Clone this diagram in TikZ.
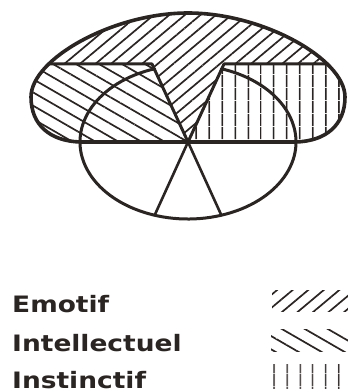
\documentclass[tikz,border=0pt]{standalone}
\usepackage{fontspec}
\newfontfamily\legendfont{DejaVu Sans}[FakeStretch=1.17]
\usepackage{tikz}
\usetikzlibrary{patterns.meta}
\definecolor{ink}{HTML}{2A2422}
\tikzset{rim/.style={draw=ink,line width=3.6pt,line join=round},
  edge/.style={draw=ink,line width=3pt,line join=round,line cap=round},
  emot/.style={pattern={Lines[angle=40,distance=10pt,line width=1.7pt]},pattern color=ink},
  intel/.style={pattern={Lines[angle=-30,distance=11.5pt,line width=1.7pt]},pattern color=ink},
  inst/.style={pattern={Lines[angle=90,distance=13pt,line width=1.8pt]},pattern color=ink},
  lbl/.style={anchor=base west,inner sep=0pt,text=ink,font=\legendfont\bfseries\fontsize{22.6}{26}\selectfont}}
\newcommand{\blob}{(80,250) .. controls (50,251) and (31,267) .. (31,295) .. controls (31,333) and (113,379) .. (188,379) .. controls (263,379) and (345,333) .. (345,295) .. controls (345,267) and (326,251) .. (296,250) -- cycle}

\begin{document}
\begin{tikzpicture}[x=1pt,y=1pt]
\useasboundingbox (0,0) rectangle (348,392);
\coordinate (c) at (188,250);\coordinate (bl) at (80,250);\coordinate (br) at (296,250);
\coordinate (vl) at (152,328);\coordinate (vr) at (224,328);
\coordinate (cl) at (49,328);\coordinate (cr) at (327,328);
% hatched parts of the upper shape
\begin{scope}
\clip \blob;
\fill[emot] (0,328) rectangle (348,392);\fill[emot] (vl)--(c)--(vr)--cycle;
\fill[intel] (0,250)--(0,328)--(vl)--(c)--cycle;
\fill[inst] (c)--(vr)--(348,328)--(348,250)--cycle;
\end{scope}
\draw[edge] (c) ++(108:108pt and 77pt) arc[start angle=108,end angle=432,x radius=108pt,y radius=77pt];
\draw[edge] (bl)--(br);
\draw[edge] (cl)--(vl)--(c)--(vr)--(cr);
\draw[edge,line width=2.6pt] (c)--++(252:108pt and 77pt) (c)--++(288:108pt and 77pt);
\draw[rim] \blob;
% legend
\node[lbl] (emotif) at (12,79) {Emotif};
\node[lbl] (intellectuel) at (12,41) {Intellectuel};
\node[lbl] (instinctif) at (12,4) {Instinctif};
\fill[emot] (272,80) rectangle (348,101);
\fill[intel] (271,40) rectangle (348,62);
\fill[inst] (269,4) rectangle (348,27);
\end{tikzpicture}
\end{document}
